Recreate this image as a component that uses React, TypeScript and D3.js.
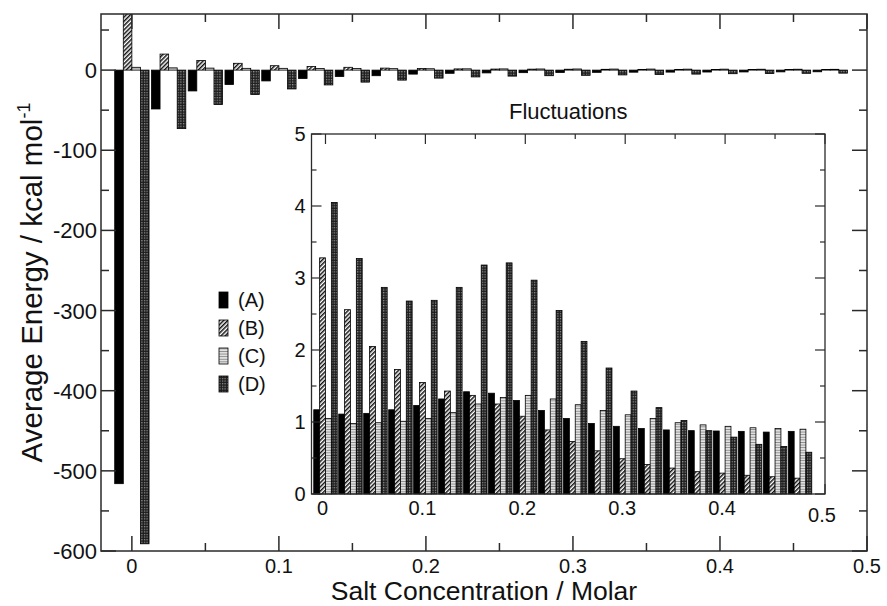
import React from 'react';
import * as d3 from 'd3';

// ---------- data ----------
const concentrations = [0, 0.025, 0.05, 0.075, 0.1, 0.125, 0.15, 0.175, 0.2, 0.225, 0.25, 0.275, 0.3, 0.325, 0.35, 0.375, 0.4, 0.425, 0.45, 0.475];
const seriesKeys = ['A', 'B', 'C', 'D'];
const seriesLabels = ['(A)', '(B)', '(C)', '(D)'];

// main chart: average energy (kcal/mol)
const energyA = [-516, -48.5, -26, -18, -13.5, -10.5, -8, -7, -5, -4, -3.5, -3.2, -3, -2.8, -2.6, -2.5, -2.4, -2.3, -2.2, -2.1];
const energyB = [72, 20, 12, 8.5, 5.5, 4.5, 3.5, 2.5, 2, 1.5, 1.3, 1.2, 1.1, 1.0, 0.9, 0.9, 0.8, 0.8, 0.7, 0.7];
const energyC = [3.5, 2.8, 2.5, 2.2, 2.2, 2.0, 2.0, 1.8, 1.7, 1.6, 1.5, 1.4, 1.4, 1.3, 1.3, 1.2, 1.2, 1.1, 1.1, 1.0];
const energyD = [-591, -73, -43, -30.5, -23.5, -18.5, -15, -12.5, -10, -8.5, -7.5, -7, -6.5, -6, -5.5, -5, -4.5, -4.3, -4, -3.8];

// inset: fluctuations
const fluctA = [1.17, 1.11, 1.12, 1.17, 1.23, 1.32, 1.42, 1.40, 1.30, 1.16, 1.05, 0.98, 0.94, 0.91, 0.89, 0.88, 0.875, 0.87, 0.86, 0.87];
const fluctB = [3.28, 2.56, 2.05, 1.73, 1.55, 1.43, 1.37, 1.25, 1.08, 0.89, 0.73, 0.60, 0.49, 0.41, 0.36, 0.31, 0.29, 0.26, 0.24, 0.22];
const fluctC = [1.05, 0.98, 0.99, 1.01, 1.05, 1.13, 1.25, 1.34, 1.37, 1.32, 1.24, 1.16, 1.10, 1.05, 0.99, 0.96, 0.94, 0.92, 0.91, 0.90];
const fluctD = [4.05, 3.27, 2.87, 2.68, 2.69, 2.87, 3.18, 3.21, 2.97, 2.55, 2.12, 1.75, 1.43, 1.20, 1.02, 0.88, 0.79, 0.69, 0.66, 0.58];

const mainXTicks = [0, 0.1, 0.2, 0.3, 0.4, 0.5];
const mainXTickLabels = ['0', '0.1', '0.2', '0.3', '0.4', '0.5'];
const mainYTicks = [0, -100, -200, -300, -400, -500, -600];
const insetXTicks = [0, 0.1, 0.2, 0.3, 0.4, 0.5];
const insetXTickLabels = ['0', '0.1', '0.2', '0.3', '0.4', '0.5'];
const insetYTicks = [0, 1, 2, 3, 4, 5];

const energyData = [energyA, energyB, energyC, energyD];
const fluctData = [fluctA, fluctB, fluctC, fluctD];
const fills = ['#000', 'url(#patB)', 'url(#patC)', 'url(#patD)'];

const FONT = "'Liberation Sans', Arial, Helvetica, sans-serif";

export default function App() {
  const W = 887, H = 606;
  // main plot
  const mL = 101, mR = 867, mT = 14, mB = 551;
  const x = d3.scaleLinear().domain([-0.021, 0.5]).range([mL, mR]);
  const y = d3.scaleLinear().domain([-600, 70]).range([mB, mT]);
  const step = x(0.025) - x(0);
  const inner = d3.scaleBand<string>().domain(seriesKeys).range([-step * 0.467, step * 0.467]).padding(0);

  // inset
  const iL = 311.5, iR = 825, iT = 134, iB = 494;
  const xi = d3.scaleLinear().domain([-0.014, 0.5]).range([iL, iR]);
  const yi = d3.scaleLinear().domain([0, 5]).range([iB, iT]);
  const stepI = xi(0.025) - xi(0);
  const innerI = d3.scaleBand<string>().domain(seriesKeys).range([-stepI * 0.47, stepI * 0.47]).padding(0);

  const mainMinorX = d3.range(0.05, 0.5, 0.1);
  const mainMinorY = d3.range(-550, 70, 100);
  const insetMinorX = d3.range(0.05, 0.5, 0.1);
  const insetMinorY = d3.range(0.5, 5, 1);

  const frameColor = '#2a2a2a';

  return (
    <svg width={W} height={H} style={{ position: 'absolute', left: 0, top: 0, background: '#fff' }} fontFamily={FONT}>
      <defs>
        <pattern id="patB" patternUnits="userSpaceOnUse" width="3" height="3" patternTransform="rotate(45)">
          <rect width="3" height="3" fill="#fff" />
          <rect width="1.5" height="3" fill="#111" />
        </pattern>
        <pattern id="patC" patternUnits="userSpaceOnUse" width="4" height="2.6">
          <rect width="4" height="2.6" fill="#e2e2e2" />
          <rect width="4" height="0.9" fill="#8a8a8a" />
        </pattern>
        <pattern id="patD" patternUnits="userSpaceOnUse" width="2.6" height="2.6">
          <rect width="2.6" height="2.6" fill="#1c1c1c" />
          <rect x="1" y="1" width="1.1" height="1.1" fill="#bdbdbd" />
        </pattern>
        <clipPath id="mainClip">
          <rect x={mL} y={mT} width={mR - mL} height={mB - mT} />
        </clipPath>
      </defs>

      {/* main bars */}
      <g clipPath="url(#mainClip)">
        {energyData.map((vals, si) =>
          vals.map((v, i) => {
            const bx = x(concentrations[i]) + (inner(seriesKeys[si]) as number);
            const y0 = y(0), y1 = y(v);
            return (
              <rect key={`m${si}-${i}`} x={bx} y={Math.min(y0, y1)} width={inner.bandwidth()} height={Math.abs(y1 - y0)}
                fill={fills[si]} stroke="#000" strokeWidth={0.8} />
            );
          })
        )}
      </g>

      {/* main frame */}
      <rect x={mL} y={mT} width={mR - mL} height={mB - mT} fill="none" stroke={frameColor} strokeWidth={1.5} />
      {mainXTicks.map(t => (
        <g key={`mxt${t}`} stroke={frameColor} strokeWidth={1.5}>
          <line x1={x(t)} x2={x(t)} y1={mB} y2={mB - 15} />
          <line x1={x(t)} x2={x(t)} y1={mT} y2={mT + 15} />
        </g>
      ))}
      {mainMinorX.map(t => (
        <g key={`mxm${t}`} stroke={frameColor} strokeWidth={1.5}>
          <line x1={x(t)} x2={x(t)} y1={mB} y2={mB - 8} />
          <line x1={x(t)} x2={x(t)} y1={mT} y2={mT + 8} />
        </g>
      ))}
      {mainYTicks.map(t => (
        <g key={`myt${t}`} stroke={frameColor} strokeWidth={1.5}>
          <line x1={mL} x2={mL + 15} y1={y(t)} y2={y(t)} />
          <line x1={mR} x2={mR - 15} y1={y(t)} y2={y(t)} />
        </g>
      ))}
      {mainMinorY.map(t => (
        <g key={`mym${t}`} stroke={frameColor} strokeWidth={1.5}>
          <line x1={mL} x2={mL + 8} y1={y(t)} y2={y(t)} />
          <line x1={mR} x2={mR - 8} y1={y(t)} y2={y(t)} />
        </g>
      ))}
      {mainXTicks.map((t, i) => (
        <text key={`mxl${t}`} x={x(t)} y={mB + 22} fontSize={20} textAnchor="middle" fill="#111">{mainXTickLabels[i]}</text>
      ))}
      {mainYTicks.map(t => (
        <text key={`myl${t}`} x={mL - 4} y={y(t) + 8} fontSize={22} textAnchor="end" fill="#111">{t}</text>
      ))}
      <text x={(mL + mR) / 2} y={600} fontSize={26.5} textAnchor="middle" fill="#111">Salt Concentration / Molar</text>
      <text transform={`translate(42, ${(mT + mB) / 2}) rotate(-90)`} fontSize={29.5} textAnchor="middle" fill="#111">
        Average Energy / kcal mol<tspan dy={-12} fontSize={18}>-1</tspan>
      </text>

      {/* legend */}
      {seriesLabels.map((lab, si) => {
        const ly = 300 + si * 28;
        return (
          <g key={`lg${si}`}>
            <rect x={219} y={ly - 8} width={9} height={16} fill={fills[si]} stroke="#000" strokeWidth={0.8} />
            <text x={238} y={ly + 7} fontSize={20} fill="#111">{lab}</text>
          </g>
        );
      })}

      {/* inset */}
      <rect x={iL} y={iT} width={iR - iL} height={iB - iT} fill="#fff" />
      {insetXTicks.map(t => (
        <line key={`ixb${t}`} x1={xi(t)} x2={xi(t)} y1={iB} y2={iB - 10} stroke={frameColor} strokeWidth={1.2} />
      ))}
      {fluctData.map((vals, si) =>
        vals.map((v, i) => {
          const bx = xi(concentrations[i]) + (innerI(seriesKeys[si]) as number);
          return (
            <rect key={`i${si}-${i}`} x={bx} y={yi(v)} width={innerI.bandwidth()} height={yi(0) - yi(v)}
              fill={fills[si]} stroke="#000" strokeWidth={0.8} />
          );
        })
      )}
      <rect x={iL} y={iT} width={iR - iL} height={iB - iT} fill="none" stroke={frameColor} strokeWidth={1.3} />
      {insetXTicks.map(t => (
        <line key={`ixt${t}`} x1={xi(t)} x2={xi(t)} y1={iT} y2={iT + 10} stroke={frameColor} strokeWidth={1.2} />
      ))}
      {insetMinorX.map(t => (
        <line key={`ixm${t}`} x1={xi(t)} x2={xi(t)} y1={iT} y2={iT + 5} stroke={frameColor} strokeWidth={1.2} />
      ))}
      {insetYTicks.map(t => (
        <g key={`iyt${t}`} stroke={frameColor} strokeWidth={1.2}>
          <line x1={iL} x2={iL + 10} y1={yi(t)} y2={yi(t)} />
          <line x1={iR} x2={iR - 10} y1={yi(t)} y2={yi(t)} />
        </g>
      ))}
      {insetMinorY.map(t => (
        <g key={`iym${t}`} stroke={frameColor} strokeWidth={1.2}>
          <line x1={iL} x2={iL + 5} y1={yi(t)} y2={yi(t)} />
          <line x1={iR} x2={iR - 5} y1={yi(t)} y2={yi(t)} />
        </g>
      ))}
      {insetXTicks.map((t, i) => (
        <text key={`ixl${t}`} x={xi(t) - 3} y={iB + (i === 5 ? 28 : 21)} fontSize={20} textAnchor="middle" fill="#111">{insetXTickLabels[i]}</text>
      ))}
      {insetYTicks.map(t => (
        <text key={`iyl${t}`} x={iL - 6} y={yi(t) + 7} fontSize={20} textAnchor="end" fill="#111">{t}</text>
      ))}
      <text x={(iL + iR) / 2} y={119} fontSize={22} textAnchor="middle" fill="#111">Fluctuations</text>
    </svg>
  );
}
